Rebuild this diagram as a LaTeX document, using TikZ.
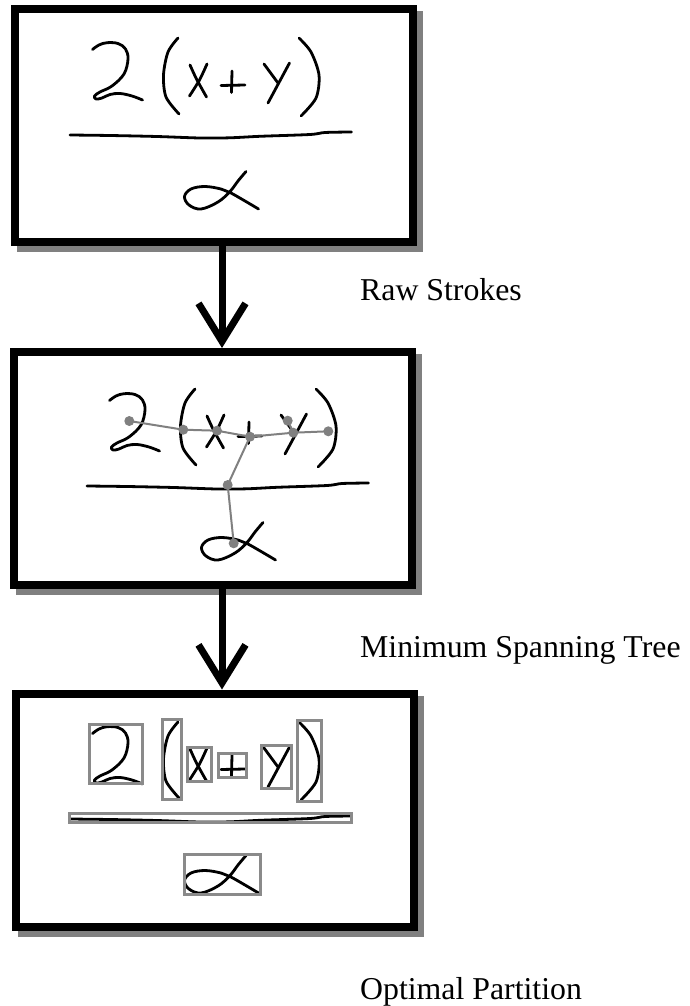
\documentclass[tikz,border=0pt]{standalone}
\usepackage{fontspec}
\setmainfont{Liberation Serif}
\usetikzlibrary{arrows.meta}
\definecolor{shadowgray}{HTML}{808080}
\definecolor{dotgray}{HTML}{808080}
\definecolor{boxgray}{HTML}{8A8A8A}

\newcommand\hwstrokes{%
  % 2
  \draw[ink] plot[smooth,tension=0.6] coordinates {(92.5,49.5) (99,45) (107,42.7) (118,43.5) (125.5,49) (128,59) (124,74) (112,86) (100,92) (94.5,96) (96,99) (102,98) (110,94.5) (120,93.5) (132,96) (142.5,100)};
  % (
  \draw[ink] plot[smooth] coordinates {(178,38) (168,52) (163.5,75) (166,97) (179,114)};
  % x
  \draw[ink] plot[smooth] coordinates {(190,65) (196.5,79) (206.5,97)};
  \draw[ink] plot[smooth] coordinates {(207,64) (199.5,80) (189.5,96)};
  % +
  \draw[ink] (221,85.5) -- (245,85);
  \draw[ink] (232,71) -- (231.5,92.5);
  % y
  \draw[ink] (264,64) -- (278,83);
  \draw[ink] (289.5,63) -- (268,103);
  % )
  \draw[ink] plot[smooth] coordinates {(299,38) (311,52) (319,75) (316,98) (301,116)};
  % fraction line
  \draw[ink] plot[smooth] coordinates {(70,135) (110,135.5) (157,136.5) (200,138) (230,137.8) (260,136.3) (310,134.5) (325,132.5) (351.5,132)};
  % alpha
  \draw[ink] plot[smooth,tension=0.6] coordinates {(246,171.5) (238,181) (230,191.5) (218,202) (201,209) (189,205) (184.5,196.5) (191,189) (205,186.5) (221,189) (230,192.5) (245,201) (258.5,209)};
}

\begin{document}
\begin{tikzpicture}[x=1pt,y=-1pt,
  frame/.style={draw=black, line width=8pt, fill=white, minimum width=398pt, minimum height=233pt, inner sep=0pt,
    preaction={draw=shadowgray, fill=shadowgray, line width=8pt, transform canvas={shift={(6pt,-6pt)}}}},
  ink/.style={line width=2.8pt, line cap=round, line join=round},
  flow/.style={line width=7pt, -{Straight Barb[length=38pt,width=47pt]}},
  mstedge/.style={draw=dotgray, line width=2pt},
  mstdot/.style={circle, fill=dotgray, inner sep=0pt, minimum size=10pt},
  partbox/.style={draw=boxgray, line width=3pt},
  lbl/.style={font=\fontsize{31.8pt}{38pt}\selectfont, anchor=base west, inner sep=0pt}]

\useasboundingbox[fill=white] (0,0) rectangle (689,1006);

% frames
\node[frame] (raw) at (214,125.5) {};
\node[frame] (mst) at (212.5,468.5) {};
\node[frame] (part) at (214.5,810) {};

% box 1: raw strokes
\begin{scope}
  \hwstrokes
\end{scope}

% box 2: strokes + minimum spanning tree
\begin{scope}[shift={(17,351)}]
  \hwstrokes
\end{scope}
\coordinate (d1) at (129.3,421);
\coordinate (d2) at (183.3,429.7);
\coordinate (d3) at (217,430.7);
\coordinate (d4) at (250,436.7);
\coordinate (d5) at (293.3,432.7);
\coordinate (d6) at (328.3,431.3);
\coordinate (d7) at (287.7,420.7);
\coordinate (d8) at (227.7,485);
\coordinate (d9) at (233.7,543.3);
\draw[mstedge] (d1) -- (d2) -- (d3) -- (d4) -- (d5) -- (d6);
\draw[mstedge] (d5) -- (d7);
\draw[mstedge] (d4) -- (d8) -- (d9);
\foreach \d in {d1,d2,d3,d4,d5,d6,d7,d8,d9}
  \node[mstdot] (n\d) at (\d) {};

% box 3: strokes + optimal partition
\begin{scope}[shift={(0,684)}]
  \hwstrokes
\end{scope}
\draw[partbox] (89.8,724.2) rectangle (142.5,783.5);
\draw[partbox] (162.2,719.8) rectangle (181.2,799.5);
\draw[partbox] (187.2,747.5) rectangle (211.2,781.2);
\draw[partbox] (218.8,753.5) rectangle (246.8,777.5);
\draw[partbox] (261.5,745.5) rectangle (291.2,788.5);
\draw[partbox] (297.2,720.5) rectangle (321.8,801.5);
\draw[partbox] (69.8,813.2) rectangle (351.5,822.5);
\draw[partbox] (184.2,854.5) rectangle (260.2,894.5);

% arrows
\coordinate (ax) at (222,0);
\draw[flow] (raw.south -| ax) -- (mst.north -| ax);
\draw[flow] (mst.south -| ax) -- (part.north -| ax);

% labels
\node[lbl] (l1) at (360,300.5) {Raw Strokes};
\node[lbl] (l2) at (360,657.3) {Minimum Spanning Tree};
\node[lbl] (l3) at (360,999) {Optimal Partition};
\end{tikzpicture}
\end{document}
